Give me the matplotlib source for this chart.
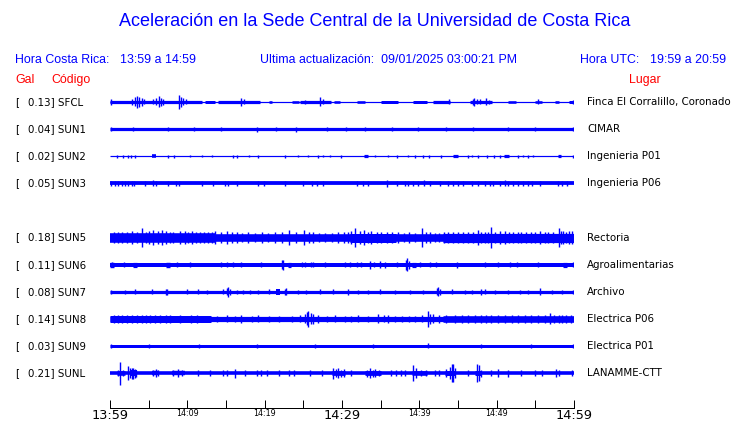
import matplotlib
matplotlib.use("Agg")
import matplotlib.pyplot as plt
import numpy as np

# ---------------- data ----------------
TITLE = "Aceleración en la Sede Central de la Universidad de Costa Rica"
HORA_CR = "13:59 a 14:59"
HORA_UTC = "19:59 a 20:59"
ACTUALIZACION = "09/01/2025 03:00:21 PM"

CODES = ["SFCL", "SUN1", "SUN2", "SUN3", "SUN5", "SUN6", "SUN7", "SUN8", "SUN9", "SUNL"]
GAL = [0.13, 0.04, 0.02, 0.05, 0.18, 0.11, 0.08, 0.14, 0.03, 0.21]
PLACES = ["Finca El Corralillo, Coronado", "CIMAR", "Ingenieria P01", "Ingenieria P06",
          "Rectoria", "Agroalimentarias", "Archivo", "Electrica P06", "Electrica P01",
          "LANAMME-CTT"]
SLOTS = [0, 1, 2, 3, 5, 6, 7, 8, 9, 10]          # SUN4 slot is empty

TICK_MIN = [0, 5, 10, 15, 20, 25, 30, 35, 40, 45, 50, 55, 60]
TICK_LABELS = ["13:59", "", "14:09", "", "14:19", "", "14:29", "", "14:39", "", "14:49", "", "14:59"]
BIG_TICKS = ["13:59", "14:29", "14:59"]

# envelope description (minutes after 13:59, half-height in px)
BASE = [0.6, 1.6, 0.6, 1.9, 3.8, 2.0, 1.6, 2.6, 1.5, 1.8]

SFCL_BANDS = [(0, 11.9, 1.6), (12.3, 13.6, 1.5), (14.0, 19.4, 1.6), (20.5, 21.0, 1.3),
              (23.5, 24.4, 1.3), (24.6, 28.6, 1.6), (29.0, 29.8, 1.3), (32.0, 33.0, 1.3),
              (35.1, 37.3, 1.5), (39.2, 41.0, 1.5), (41.8, 44.0, 1.6), (46.6, 49.4, 1.6),
              (51.5, 52.5, 1.3), (55.0, 55.8, 1.3), (57.5, 58.0, 1.3), (59.3, 60, 1.5)]
SFCL_SPIKES = [(0.1, 2.7), (2.9, 3.0), (3.2, 4.5), (3.5, 6.0), (3.8, 5.0), (4.1, 4.0),
               (4.4, 2.5), (5.6, 2.5), (5.9, 3.5), (6.3, 5.5), (6.6, 4.0), (6.9, 3.0),
               (8.9, 7.0), (9.2, 5.0), (9.5, 3.5), (9.8, 2.5), (16.9, 4.0), (17.3, 2.5),
               (25.2, 2.0), (27.2, 4.5), (27.6, 2.5), (43.8, 2.5), (46.9, 3.0), (47.1, 4.0),
               (47.5, 2.5), (47.9, 2.5), (48.6, 3.5), (49.0, 2.0), (55.4, 2.5), (59.9, 2.0)]

SUN1_BANDS = []
SUN1_SPIKES = [(0.1, 2.0), (3.0, 2.0), (7.5, 2.0), (10.8, 2.3), (14.3, 2.0), (19.0, 2.5),
               (21.5, 2.0), (24.1, 2.5), (28.0, 2.0), (30.5, 2.0), (33.0, 2.0), (36.5, 2.0),
               (39.8, 2.0), (43.5, 2.0), (47.0, 2.0), (51.5, 2.0), (55.0, 2.0), (59.9, 2.2)]

SUN2_BANDS = [(5.4, 6.0, 1.8), (32.8, 33.4, 1.6), (44.4, 45.0, 1.6), (51.0, 51.6, 1.6),
              (57.9, 58.3, 1.6)]
SUN2_SPIKES = [(0.86, 1.6), (1.72, 1.6), (2.28, 1.6), (2.72, 1.6), (3.23, 1.6), (7.46, 1.6),
               (8.32, 1.6), (10.34, 1.3), (11.85, 1.3), (13.23, 1.3), (15.95, 1.6), (16.38, 1.6),
               (17.97, 1.3), (19.1, 1.6), (22.6, 1.6), (24.3, 1.3), (25.6, 1.3), (26.9, 1.6),
               (27.6, 1.3), (28.4, 1.3), (29.9, 1.6), (34.3, 1.3), (36.0, 1.3), (37.1, 1.6),
               (38.5, 1.3), (39.4, 1.6), (40.5, 1.6), (41.2, 1.6), (42.8, 1.6), (46.3, 1.6),
               (46.8, 1.3), (47.6, 1.6), (48.7, 1.6), (49.7, 1.6), (50.4, 1.6), (52.8, 1.6),
               (53.4, 1.3), (54.1, 1.6), (54.7, 1.3), (59.9, 1.6)]

SUN3_BANDS = []
SUN3_SPIKES = [(0.13, 2.5), (0.64, 2.5), (1.07, 2.5), (1.5, 2.5), (1.94, 2.5), (2.37, 2.5),
               (2.8, 2.5), (3.14, 2.5), (4.52, 2.5), (5.51, 3.0), (5.9, 2.5), (7.54, 2.5),
               (8.53, 2.5), (8.92, 2.5), (11.85, 2.5), (13.36, 2.5), (14.87, 2.5), (15.21, 2.5),
               (16.46, 2.5), (19.18, 2.5), (19.95, 2.5), (22.62, 2.5), (24.9, 2.5), (26.07, 2.5),
               (26.72, 2.5), (27.58, 2.5), (31.89, 2.5), (32.75, 2.5), (33.4, 2.5), (35.77, 3.3),
               (37.06, 2.5), (38.14, 2.5), (38.57, 2.5), (39.22, 2.5), (39.86, 2.5), (40.64, 3.0),
               (41.37, 2.5), (42.67, 2.5), (43.74, 2.5), (44.39, 2.5), (45.04, 2.5), (45.68, 2.5),
               (46.76, 2.5), (47.62, 2.5), (48.48, 2.5), (49.13, 2.5), (49.56, 2.5), (50.42, 2.5),
               (51.07, 3.0), (51.5, 2.5), (52.15, 2.5), (52.79, 2.5), (53.44, 2.5), (54.09, 2.5),
               (54.52, 2.5), (55.6, 2.5), (57.97, 2.5), (58.4, 2.5), (59.05, 2.5)]

SUN5_BANDS = [(0, 13.6, 4.8), (31.0, 37.0, 4.5), (43.0, 60, 4.6)]
SUN5_SPIKES = [(0.5, 5.5), (1.0, 6), (1.5, 5.5), (2.2, 5.5), (2.8, 6.5), (3.5, 6), (4.1, 9.5),
               (4.6, 6), (5.0, 6.5), (5.6, 8), (6.2, 6.5), (6.7, 8), (7.3, 6.5), (7.8, 6),
               (8.2, 6), (9.0, 7), (9.7, 6.5), (10.1, 6), (10.6, 7), (11.1, 6), (11.6, 6),
               (12.2, 5.5), (12.7, 5.5), (13.2, 6), (13.6, 6.5), (14.3, 5.5), (15.1, 7), (15.8, 5.5),
               (16.4, 5.5), (17.1, 5), (17.9, 5.5), (18.8, 5), (19.6, 5.5), (20.4, 5), (21.3, 6),
               (22.2, 5.5), (23.1, 7.5), (24.1, 5.5), (25.1, 8), (25.7, 5.5), (26.3, 5.5), (27.0, 5),
               (27.8, 5), (28.7, 5), (29.5, 5.5), (30.2, 5.5), (30.8, 6), (31.2, 6.5),
               (31.7, 9), (32.3, 6.5), (32.8, 8), (33.3, 6), (33.8, 6.5), (34.5, 6), (35.1, 5.5),
               (35.8, 5.5), (36.5, 5.5), (37.3, 6), (38.0, 5), (38.6, 5.5), (39.4, 5), (40.3, 9),
               (40.8, 5.5), (41.4, 6), (42.0, 5), (42.5, 5), (43.2, 5.5), (43.7, 5.5), (44.3, 5.5),
               (45.0, 6), (45.6, 5.5), (46.3, 5.5), (47.0, 6), (47.6, 8), (48.0, 6), (48.5, 5.5),
               (48.9, 6), (49.3, 10), (49.8, 6), (50.4, 6.5), (51.1, 6.5), (51.6, 5.5), (52.1, 6),
               (52.7, 5.5), (53.2, 5.5), (53.8, 5.5), (54.5, 6), (55.0, 5.5), (55.6, 6.5), (56.2, 5.5),
               (56.7, 5.5), (57.3, 6), (58.0, 9), (58.3, 6.5), (58.6, 6.5), (59.0, 6), (59.3, 7),
               (59.7, 6.5)]

SUN6_BANDS = [(0.0, 0.5, 2.7), (3.0, 3.5, 2.6), (7.3, 7.8, 2.7), (23.0, 23.4, 2.6),
              (39.0, 39.6, 2.6), (58.6, 59.1, 2.6)]
SUN6_SPIKES = [(0.3, 2.7), (1.85, 2.5), (8.6, 2.3), (10.4, 2.3), (14.4, 2.3), (15.1, 2.3),
               (15.95, 2.3), (17.0, 2.3), (19.5, 2.3), (22.2, 4.3), (22.4, 5.0), (24.8, 2.3),
               (25.2, 2.3), (26.0, 2.3), (26.3, 2.3), (27.8, 2.3), (30.4, 2.3), (31.0, 2.3),
               (31.9, 2.3), (32.5, 2.3), (33.6, 4.0), (34.2, 2.7), (34.9, 3.5), (35.6, 3.0),
               (37.1, 2.7), (38.3, 5.0), (38.45, 6.3), (38.7, 4.0), (40.1, 2.3), (41.4, 2.3),
               (42.2, 2.3), (44.9, 3.0), (48.5, 2.3), (50.2, 2.3), (51.7, 2.3), (52.6, 2.7),
               (55.4, 2.3), (59.9, 2.5)]

SUN7_BANDS = [(21.5, 22.0, 3.0)]
SUN7_SPIKES = [(0.13, 2.2), (1.94, 2.0), (3.23, 2.5), (5.38, 2.5), (7.2, 2.8), (7.4, 3.0),
               (9.9, 2.5), (11.4, 2.5), (12.5, 2.2), (14.65, 2.5), (15.1, 3.5), (15.3, 5.0),
               (15.5, 3.0), (16.4, 2.2), (17.2, 2.2), (18.1, 2.2), (19.1, 2.0), (20.6, 2.7),
               (22.6, 3.0), (22.8, 3.3), (24.3, 2.2), (25.4, 2.2), (27.1, 2.5), (28.9, 2.5),
               (30.8, 2.8), (32.1, 2.2), (33.4, 2.2), (34.9, 2.5), (36.8, 2.2), (38.8, 2.2),
               (40.5, 2.2), (42.3, 3.5), (42.45, 4.5), (42.7, 3.0), (44.2, 2.5), (45.9, 2.2),
               (46.8, 2.2), (48.0, 3.0), (48.5, 2.5), (49.8, 2.2), (51.5, 2.2), (53.0, 2.2),
               (54.1, 2.2), (55.6, 3.5), (57.1, 2.2), (58.4, 2.2), (59.9, 2.2)]

SUN8_BANDS = [(0, 13.0, 3.5), (43.0, 60, 3.3)]
SUN8_SPIKES = [(0.5, 3.8), (1.0, 3.8), (1.5, 4), (2.2, 3.8), (2.8, 3.8), (3.5, 3.8), (4.1, 3.8),
               (4.7, 4), (5.2, 3.8), (5.8, 3.8), (6.5, 3.8), (7.3, 4), (7.8, 3.8), (8.4, 3.3),
               (9.0, 3.8), (9.7, 3.3), (10.5, 3.8), (11.2, 4), (12.3, 3.3), (13.8, 3.2), (15.1, 3.5),
               (16.2, 3.2), (17.0, 4), (18.3, 3.2), (19.2, 3.5), (20.5, 3.2), (21.8, 3.2), (23.5, 3.2),
               (24.6, 3.5), (25.2, 4.5), (25.45, 6.5), (25.6, 8), (26.0, 5.5), (26.3, 5),
               (26.9, 4), (28.0, 3.2), (29.1, 3.5), (30.4, 3.2), (31.2, 3.2), (32.1, 3.5), (33.4, 3.2),
               (34.7, 4.5), (35.4, 3.5), (36.0, 4), (36.8, 3.2), (37.7, 3.2), (38.6, 3.2), (39.4, 3.2),
               (40.3, 3.5), (41.1, 8), (41.4, 5), (41.8, 4.5), (42.5, 4), (43.5, 3.8), (44.6, 3.8),
               (45.5, 3.8), (46.3, 3.8), (47.2, 3.8), (48.0, 3.8), (48.6, 3.8), (49.3, 4),
               (50.2, 3.8), (51.1, 3.8), (52.0, 3.8), (52.8, 3.8), (53.6, 3.8), (54.5, 4),
               (55.4, 3.8), (56.2, 3.8), (56.9, 5.5), (57.4, 3.8), (58.0, 4), (58.5, 3.8),
               (59.0, 4), (59.6, 3.8)]

SUN9_BANDS = []
SUN9_SPIKES = [(0.1, 1.8), (5.0, 1.8), (11.5, 1.8), (19.0, 1.8), (26.5, 1.8), (34.0, 1.8),
               (41.1, 2.5), (48.0, 1.8), (54.5, 1.8), (59.9, 1.8)]

SUNL_BANDS = [(0.9, 1.94, 2.3), (2.6, 3.45, 3.0), (5.4, 6.3, 2.2), (8.0, 9.7, 2.2),
              (28.7, 30.4, 2.4), (33.0, 35.1, 2.4), (39.0, 41.0, 2.3), (43.3, 44.6, 2.5),
              (47.2, 48.0, 2.5)]
SUNL_SPIKES = [(1.0, 2.8), (1.33, 11.5), (1.7, 2.8), (2.28, 7.0), (2.55, 5.0), (2.8, 5.5),
               (3.0, 5.5), (3.2, 4.5), (3.4, 3.5), (5.5, 2.8), (6.0, 4.0), (6.2, 2.8), (8.2, 2.8),
               (8.8, 4.0), (9.3, 2.8), (11.4, 2.8), (12.9, 2.8), (14.6, 2.8), (15.1, 2.8),
               (16.1, 4.5), (17.45, 3.0), (19.0, 2.8), (19.5, 2.8), (20.3, 2.8), (21.8, 2.8),
               (23.2, 2.8), (23.8, 2.8), (25.8, 2.8), (27.4, 2.8), (28.9, 5.5), (29.2, 4.0),
               (29.5, 5.0), (29.9, 3.5), (30.2, 4.0), (31.2, 2.8), (33.2, 3.5), (33.6, 5.0),
               (34.0, 3.5), (34.3, 4.0), (34.8, 3.0), (36.3, 2.8), (37.0, 2.8), (37.6, 2.8),
               (38.2, 3.0), (39.2, 8.0), (39.6, 5.0), (40.2, 3.0), (40.8, 3.0), (42.0, 2.8),
               (42.6, 2.8), (43.5, 4.0), (44.0, 6.0), (44.2, 9.3), (44.4, 9.0), (44.6, 5.0),
               (46.3, 3.0), (47.4, 9.3), (47.7, 8.0), (48.0, 3.5), (49.3, 3.0), (50.2, 4.0),
               (51.5, 3.5), (53.2, 2.8), (54.9, 2.8), (55.8, 2.8), (57.7, 4.0), (58.0, 2.8),
               (59.7, 2.8)]

BANDS = [SFCL_BANDS, SUN1_BANDS, SUN2_BANDS, SUN3_BANDS, SUN5_BANDS,
         SUN6_BANDS, SUN7_BANDS, SUN8_BANDS, SUN9_BANDS, SUNL_BANDS]
SPIKES = [SFCL_SPIKES, SUN1_SPIKES, SUN2_SPIKES, SUN3_SPIKES, SUN5_SPIKES,
          SUN6_SPIKES, SUN7_SPIKES, SUN8_SPIKES, SUN9_SPIKES, SUNL_SPIKES]

# ---------------- layout ----------------
W, H = 740, 423
DPI = 100
BLUE = (0, 0, 1)
RED = (1, 0, 0)
ROW_PX = 27.1
PT = 72.0 / DPI           # points per pixel

fig = plt.figure(figsize=(W / DPI, H / DPI), dpi=DPI)
fig.patch.set_facecolor("white")


def fx(px):
    return px / W


def fy(py):
    return 1 - py / H


ax_left, ax_right, ax_top, ax_bot = 110, 574, 88, 408
ax = fig.add_axes([fx(ax_left), fy(ax_bot), (ax_right - ax_left) / W, (ax_bot - ax_top) / H])
first_y = 102
ax.set_xlim(TICK_MIN[0], TICK_MIN[-1])
ax.set_ylim((ax_bot - first_y) / ROW_PX, (ax_top - first_y) / ROW_PX)
ax.set_facecolor("none")
for side in ["top", "left", "right"]:
    ax.spines[side].set_visible(False)
ax.spines["bottom"].set_linewidth(1.0 * PT)
ax.spines["bottom"].set_color("black")
ax.set_yticks([])
ax.set_xticks(TICK_MIN)
ax.set_xticklabels(TICK_LABELS)
ax.tick_params(axis="x", direction="in", length=8 * PT, width=1.0 * PT, pad=1.0, colors="black")
for lab in ax.get_xticklabels():
    if lab.get_text() in BIG_TICKS:
        lab.set_fontsize(9.3)
    else:
        lab.set_fontsize(5.8)

t_start, t_end = TICK_MIN[0], TICK_MIN[-1]
for i, s in enumerate(SLOTS):
    # continuous trace band
    ax.hlines(s, t_start, t_end, colors=[BLUE], linewidth=2 * BASE[i] * PT, capstyle="butt")
    for (t0, t1, h) in BANDS[i]:
        ax.hlines(s, t0, t1, colors=[BLUE], linewidth=2 * h * PT, capstyle="butt")
    if SPIKES[i]:
        ts = np.array([p[0] for p in SPIKES[i]])
        am = np.array([p[1] for p in SPIKES[i]]) / ROW_PX
        ax.vlines(ts, s - am, s + am, colors=[BLUE], linewidth=1.4 * PT)

    ypx = first_y + s * ROW_PX
    fig.text(fx(15), fy(ypx), "[", fontsize=7.4, family="DejaVu Sans", va="center", ha="left")
    fig.text(fx(27.5), fy(ypx), f"{GAL[i]:.2f}] {CODES[i]}", fontsize=7.4,
             family="DejaVu Sans", va="center", ha="left")
    fig.text(fx(587), fy(ypx), PLACES[i], fontsize=7.4, family="DejaVu Sans",
             va="center", ha="left")

# header
hdr = dict(family="Liberation Sans", color=BLUE, va="center")
fig.text(fx(375), fy(22), TITLE, fontsize=13, ha="center", **hdr)
fig.text(fx(15), fy(60), "Hora Costa Rica:", fontsize=8.9, ha="left", **hdr)
fig.text(fx(120), fy(60), HORA_CR, fontsize=8.9, ha="left", **hdr)
fig.text(fx(260), fy(60), "Ultima actualización:  " + ACTUALIZACION, fontsize=8.9, ha="left", **hdr)
fig.text(fx(580), fy(60), "Hora UTC:", fontsize=8.9, ha="left", **hdr)
fig.text(fx(650), fy(60), HORA_UTC, fontsize=8.9, ha="left", **hdr)
red = dict(family="Liberation Sans", color=RED, va="center", fontsize=8.9)
fig.text(fx(15), fy(80), "Gal", ha="left", **red)
fig.text(fx(51), fy(80), "Código", ha="left", **red)
fig.text(fx(629), fy(80), "Lugar", ha="left", **red)

fig.savefig("out.png", dpi=DPI, facecolor="white")
